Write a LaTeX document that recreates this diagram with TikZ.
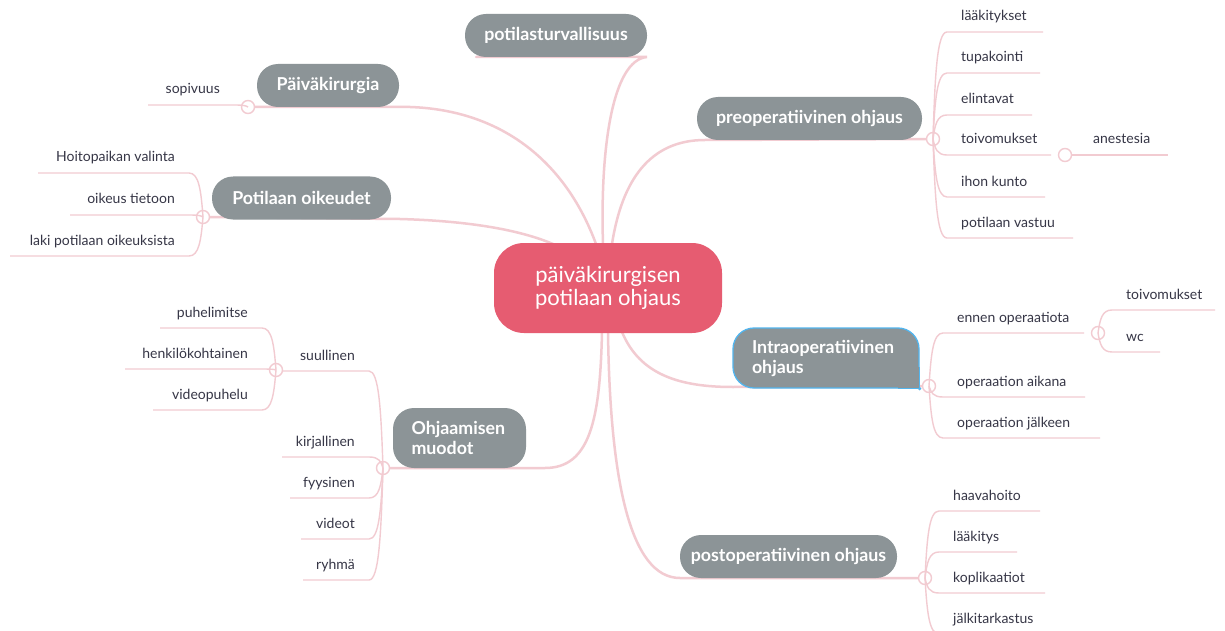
\documentclass[tikz,border=0pt]{standalone}
\usepackage{fontspec}
\setmainfont{Lato}
\usetikzlibrary{calc}
\definecolor{brc}{HTML}{F2CBD1}
\definecolor{topicgray}{HTML}{8C9497}
\definecolor{centerred}{HTML}{E65C71}
\definecolor{leaftext}{HTML}{363646}
\definecolor{selblue}{HTML}{52B5EE}
\tikzset{
  leafline/.style={draw=brc,line width=1.4pt},
  mainline/.style={draw=brc,line width=2.5pt,line cap=round},
  leaf/.style={text=leaftext,font=\fontsize{14}{16}\selectfont,inner sep=0pt},
  knob/.style={circle,draw=brc,line width=1.4pt,fill=white,minimum size=13pt,inner sep=0pt},
  topic/.style={fill=topicgray,rounded corners=21pt,text=white,font=\bfseries\fontsize{17.8}{20}\selectfont,minimum height=43pt,inner sep=0pt},
}
% right leaf: circle node, dy, line length, name, text
\newcommand\rleaf[5]{%
  \draw[leafline] (#1.center) .. controls ([shift={(2,{(#2)*0.6})}]#1.center) and ([shift={(4,#2)}]#1.center) .. ([shift={(14,#2)}]#1.center) -- ++(#3,0);
  \node[leaf,anchor=base west] (#4) at ([shift={(28,{(#2)-11})}]#1.center) {#5};}
\newcommand\lleaf[5]{%
  \draw[leafline] (#1.center) .. controls ([shift={(-2,{(#2)*0.6})}]#1.center) and ([shift={(-4,#2)}]#1.center) .. ([shift={(-14,#2)}]#1.center) -- ++(-#3,0);
  \node[leaf,anchor=base east] (#4) at ([shift={(-28,{(#2)-11})}]#1.center) {#5};}
\begin{document}
\begin{tikzpicture}[x=1pt,y=-1pt]
\useasboundingbox (0,0) rectangle (1225,631);
\fill[white] (0,0) rectangle (1225,631);

% entry points on the central node
\coordinate (cT1) at (553,244);
\coordinate (cT2) at (596,244);
\coordinate (cT3) at (603,244);
\coordinate (cT4) at (612,244);
\coordinate (cB1) at (602,332);
\coordinate (cB2) at (608,332);
\coordinate (cB3) at (622,332);

% knob positions
\coordinate (kcp) at (248,107);
\coordinate (ocp) at (203,217);
\coordinate (pcp) at (933,139);
\coordinate (icp) at (929,386);
\coordinate (qcp) at (925,578);
\coordinate (mcp) at (383,468);

% main connectors
\draw[mainline] (476,57) -- (647,57) .. controls (612,60) and (600,150) .. (cT3);
\draw[mainline] (kcp) -- (410,107) .. controls (500,110) and (565,160) .. (cT2);
\draw[mainline] (ocp) -- (400,219) .. controls (470,221) and (520,230) .. (cT1);
\draw[mainline] (pcp) -- (705,140) .. controls (650,140) and (622,180) .. (cT4);
\draw[mainline] (icp) -- (733,387) .. controls (680,387) and (640,375) .. (cB3);
\draw[mainline] (qcp) -- (680,578) .. controls (630,578) and (610,480) .. (cB2);
\draw[mainline] (mcp) -- (545,468) .. controls (590,468) and (600,420) .. (cB1);

% knobs
\node[knob] (kc) at (kcp) {};
\node[knob] (oc) at (ocp) {};
\node[knob] (pc) at (pcp) {};
\node[knob] (ic) at (icp) {};
\node[knob] (qc) at (qcp) {};
\node[knob] (mc) at (mcp) {};

% leaves: preoperatiivinen
\rleaf{pc}{-107}{96}{p1}{lääkitykset}
\rleaf{pc}{-66}{93}{p2}{tupakointi}
\rleaf{pc}{-24}{85}{p3}{elintavat}
\rleaf{pc}{16}{104}{p4}{toivomukset}
\rleaf{pc}{58}{98}{p5}{ihon kunto}
\rleaf{pc}{99}{126}{p6}{potilaan vastuu}
\node[knob] (ac) at (1065,155) {};
\draw[leafline] (ac) -- (1168,155);
\node[leaf,anchor=base west] (a1) at (1093,144) {anestesia};

% leaves: intraoperatiivinen
\rleaf{ic}{-53}{141}{i1}{ennen operaatiota}
\rleaf{ic}{11}{142}{i2}{operaation aikana}
\rleaf{ic}{52}{157}{i3}{operaation jälkeen}
\node[knob] (ec) at (1098,333) {};
\rleaf{ec}{-23}{103}{e1}{toivomukset}
\rleaf{ec}{19}{48}{e2}{wc}

% leaves: postoperatiivinen
\rleaf{qc}{-67}{101}{q1}{haavahoito}
\rleaf{qc}{-26}{78}{q2}{lääkitys}
\rleaf{qc}{15}{106}{q3}{koplikaatiot}
\rleaf{qc}{56}{110}{q4}{jälkitarkastus}

% leaves: Päiväkirurgia
\lleaf{kc}{-2}{86}{k1}{sopivuus}

% leaves: Potilaan oikeudet
\lleaf{oc}{-44}{151}{o1}{Hoitopaikan valinta}
\lleaf{oc}{-2}{119}{o2}{oikeus tietoon}
\lleaf{oc}{39}{179}{o3}{laki potilaan oikeuksista}

% leaves: Ohjaamisen muodot
\lleaf{mc}{-97}{93}{m1}{suullinen}
\lleaf{mc}{-11}{87}{m2}{kirjallinen}
\lleaf{mc}{30}{79}{m3}{fyysinen}
\lleaf{mc}{71}{68}{m4}{videot}
\lleaf{mc}{112}{66}{m5}{ryhmä}
\node[knob] (sc) at (276,370) {};
\lleaf{sc}{-42}{102}{s1}{puhelimitse}
\lleaf{sc}{-1}{137}{s2}{henkilökohtainen}
\lleaf{sc}{40}{109}{s3}{videopuhelu}

% topic nodes
\node[topic,minimum width=182pt] (t1) at (556,35.5) {potilasturvallisuus};
\node[topic,minimum width=142pt] (t2) at (328,85.5) {Päiväkirurgia};
\node[topic,minimum width=179pt] (t3) at (301.5,198) {Potilaan oikeudet};
\node[topic,minimum width=225pt] (t4) at (809.5,118.5) {preoperatiivinen ohjaus};
\node[topic,minimum width=217pt] (t5) at (788.5,556.5) {postoperatiivinen ohjaus};
\node[topic,minimum width=133pt,minimum height=60pt,align=left,text width=96pt] (t6) at (459.5,438) {Ohjaamisen\\muodot};
% selected node
\node[topic,draw=selblue,line width=1.3pt,minimum width=186pt,minimum height=60pt,align=left,text width=148pt] (t7) at (826,358) {Intraoperatiivinen\\ohjaus};
\fill[topicgray] (t7.south east) ++(-22pt,0) rectangle ([shift={(-0.65pt,-0.65pt)}]t7.south east |- 0,366);
\draw[selblue,line width=1.3pt] (t7.south east) ++(-22pt,0) -- (t7.south east) -- ++(0,22pt);
\fill[selblue] (t7.south east) circle (1.8pt);

% central node
\node[fill=centerred,rounded corners=30pt,minimum width=228pt,minimum height=90pt,text=white,align=center,font=\fontsize{22}{23.5}\selectfont,inner sep=0pt] (c) at (608,288) {päiväkirurgisen\\potilaan ohjaus};
\end{tikzpicture}
\end{document}
